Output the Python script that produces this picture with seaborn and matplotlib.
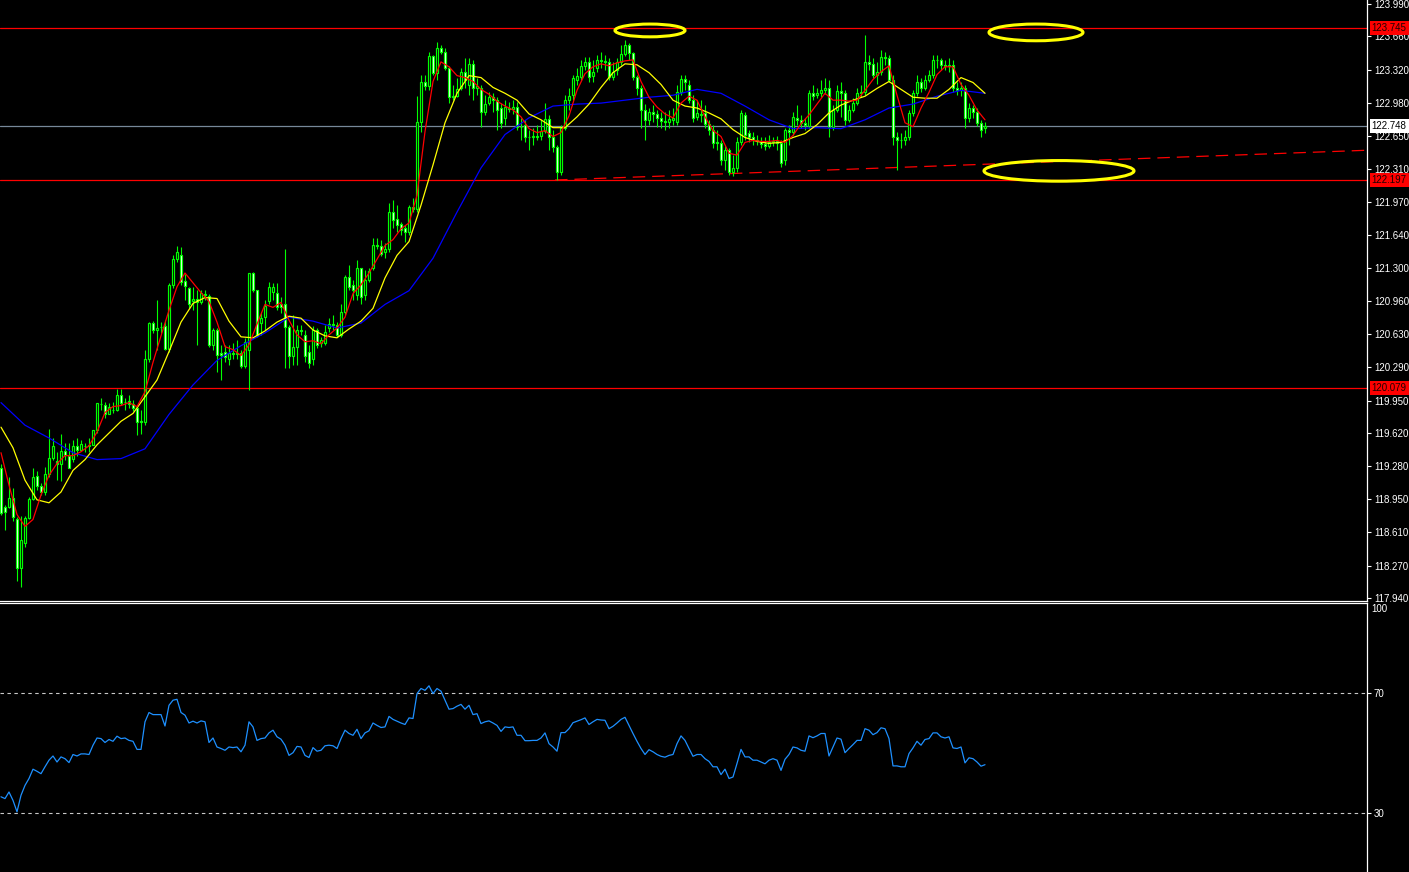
# USDJPY-style candlestick chart with moving averages and RSI, MetaTrader look
import numpy as np
import matplotlib.pyplot as plt
import seaborn as sns
from matplotlib.patches import Ellipse
from matplotlib.transforms import blended_transform_factory

# candle data, one entry per bar
opens = [119.26, 118.87, 118.87, 118.96, 118.74, 118.25, 118.50, 118.76, 118.95, 119.18,
         119.08, 119.02, 119.20, 119.37, 119.34, 119.30, 119.44, 119.39, 119.36, 119.49,
         119.45, 119.49, 119.49, 119.50, 119.65, 119.92, 119.91, 119.81, 119.86, 119.86,
         120.01, 119.94, 119.95, 119.92, 119.88, 119.74, 119.73, 120.37, 120.74, 120.67,
         120.70, 120.71, 120.48, 121.13, 121.39, 121.43, 121.17, 121.10, 120.96, 120.99,
         120.95, 121.04, 121.02, 120.52, 120.67, 120.44, 120.45, 120.37, 120.44, 120.43,
         120.44, 120.30, 120.47, 121.25, 121.08, 120.74, 120.80, 120.96, 121.06, 121.05,
         120.93, 120.93, 120.70, 120.40, 120.50, 120.67, 120.62, 120.45, 120.37, 120.67,
         120.54, 120.54, 120.69, 120.73, 120.72, 120.62, 120.85, 121.21, 121.13, 121.03,
         121.30, 121.03, 121.18, 121.30, 121.54, 121.53, 121.46, 121.49, 121.87, 121.80,
         121.75, 121.71, 121.67, 121.92, 121.90, 122.79, 123.19, 123.15, 123.46, 123.29,
         123.54, 123.50, 123.34, 123.04, 123.05, 123.13, 123.30, 123.16, 123.38, 123.13,
         123.13, 122.89, 122.98, 123.04, 123.01, 122.93, 122.83, 122.93, 122.92, 122.94,
         122.74, 122.76, 122.64, 122.63, 122.65, 122.65, 122.70, 122.82, 122.63, 122.53,
         122.28, 122.73, 123.01, 123.06, 123.22, 123.25, 123.36, 123.40, 123.26, 123.34,
         123.42, 123.41, 123.40, 123.25, 123.32, 123.40, 123.48, 123.57, 123.49, 123.25,
         123.13, 122.91, 122.81, 122.89, 122.87, 122.83, 122.80, 122.79, 122.81, 122.79,
         123.09, 123.23, 123.16, 123.01, 122.84, 122.86, 122.88, 122.77, 122.71, 122.58,
         122.57, 122.40, 122.50, 122.28, 122.32, 122.58, 122.86, 122.68, 122.64, 122.60,
         122.59, 122.56, 122.54, 122.58, 122.59, 122.57, 122.40, 122.71, 122.69, 122.83,
         122.81, 122.78, 122.75, 123.08, 123.06, 123.08, 123.11, 123.13, 122.74, 122.91,
         123.10, 123.08, 122.81, 122.91, 122.98, 123.08, 123.09, 123.40, 123.38, 123.27,
         123.30, 123.45, 123.44, 123.22, 122.64, 122.60, 122.60, 122.64, 122.88, 123.08,
         123.20, 123.13, 123.22, 123.27, 123.42, 123.42, 123.37, 123.36, 123.37, 123.13,
         123.11, 123.13, 122.83, 122.93, 122.89, 122.78, 122.73]
highs = [119.30, 118.89, 119.17, 119.06, 118.77, 118.78, 118.78, 118.97, 119.26, 119.23,
         119.11, 119.27, 119.66, 119.57, 119.43, 119.61, 119.52, 119.52, 119.55, 119.57,
         119.55, 119.52, 119.57, 119.65, 119.93, 119.98, 119.94, 119.93, 119.94, 120.07,
         120.07, 119.98, 120.01, 119.96, 119.89, 119.86, 120.47, 120.75, 120.76, 120.98,
         120.75, 120.77, 121.15, 121.43, 121.52, 121.51, 121.24, 121.11, 121.11, 121.08,
         121.08, 121.08, 121.04, 120.69, 120.69, 120.52, 120.52, 120.52, 120.54, 120.57,
         120.47, 120.59, 121.25, 121.26, 121.08, 120.85, 120.98, 121.16, 121.15, 121.15,
         121.01, 121.49, 120.72, 120.82, 120.72, 120.72, 120.67, 120.52, 120.71, 120.69,
         120.60, 120.72, 120.79, 120.82, 120.75, 120.93, 121.23, 121.33, 121.18, 121.38,
         121.30, 121.28, 121.30, 121.61, 121.61, 121.59, 121.56, 121.96, 121.99, 121.94,
         121.77, 121.74, 121.94, 122.01, 123.05, 123.27, 123.27, 123.50, 123.47, 123.60,
         123.57, 123.54, 123.36, 123.16, 123.24, 123.34, 123.44, 123.44, 123.42, 123.24,
         123.16, 123.06, 123.09, 123.08, 123.04, 122.98, 123.01, 122.99, 123.01, 122.99,
         122.83, 122.81, 122.71, 122.73, 122.76, 122.81, 122.98, 122.86, 122.71, 122.55,
         122.76, 123.06, 123.13, 123.27, 123.34, 123.42, 123.45, 123.45, 123.42, 123.47,
         123.50, 123.47, 123.44, 123.40, 123.44, 123.57, 123.62, 123.59, 123.50, 123.27,
         123.16, 122.97, 122.93, 122.96, 122.91, 122.89, 122.89, 122.91, 122.93, 123.16,
         123.27, 123.27, 123.22, 123.06, 123.01, 123.01, 122.96, 122.81, 122.76, 122.71,
         122.60, 122.55, 122.52, 122.45, 122.63, 122.91, 122.89, 122.71, 122.69, 122.66,
         122.64, 122.63, 122.66, 122.64, 122.65, 122.60, 122.73, 122.76, 122.89, 122.96,
         122.86, 122.83, 123.11, 123.16, 123.13, 123.22, 123.24, 123.22, 122.96, 123.16,
         123.20, 123.11, 122.96, 123.03, 123.13, 123.16, 123.67, 123.47, 123.44, 123.40,
         123.52, 123.50, 123.47, 123.27, 122.69, 122.68, 122.71, 122.91, 123.11, 123.27,
         123.24, 123.27, 123.32, 123.47, 123.47, 123.44, 123.42, 123.44, 123.42, 123.19,
         123.20, 123.16, 122.98, 122.96, 122.93, 122.81, 122.79]
lows = [118.79, 118.63, 118.86, 118.72, 118.11, 118.05, 118.46, 118.75, 118.94, 119.04,
        118.99, 118.99, 119.17, 119.35, 119.14, 119.13, 119.35, 119.26, 119.33, 119.39,
        119.45, 119.43, 119.43, 119.50, 119.62, 119.86, 119.77, 119.81, 119.82, 119.84,
        119.91, 119.86, 119.88, 119.84, 119.60, 119.61, 119.70, 120.34, 120.64, 120.47,
        120.64, 120.47, 120.45, 121.10, 121.36, 121.13, 120.98, 120.89, 120.87, 120.52,
        120.93, 120.98, 120.50, 120.47, 120.24, 120.16, 120.34, 120.31, 120.37, 120.37,
        120.28, 120.28, 120.06, 121.06, 120.60, 120.62, 120.67, 120.93, 120.98, 120.87,
        120.84, 120.28, 120.28, 120.31, 120.31, 120.62, 120.34, 120.28, 120.31, 120.49,
        120.50, 120.52, 120.65, 120.67, 120.60, 120.60, 120.82, 121.08, 120.98, 120.98,
        120.93, 120.98, 121.16, 121.28, 121.49, 121.42, 121.40, 121.46, 121.71, 121.67,
        121.64, 121.57, 121.64, 121.87, 121.87, 122.69, 123.11, 123.11, 123.27, 123.22,
        123.48, 123.32, 122.98, 123.01, 123.04, 123.11, 123.13, 123.06, 123.01, 123.06,
        122.74, 122.86, 122.96, 122.89, 122.71, 122.73, 122.76, 122.89, 122.87, 122.71,
        122.60, 122.58, 122.50, 122.55, 122.60, 122.60, 122.68, 122.50, 122.48, 122.20,
        122.25, 122.71, 122.91, 123.01, 123.16, 123.22, 123.32, 123.19, 123.19, 123.30,
        123.34, 123.32, 123.22, 123.22, 123.27, 123.37, 123.46, 123.42, 123.22, 123.06,
        122.73, 122.60, 122.76, 122.79, 122.74, 122.73, 122.71, 122.73, 122.76, 122.76,
        123.06, 123.11, 122.98, 122.79, 122.81, 122.79, 122.73, 122.66, 122.52, 122.50,
        122.35, 122.30, 122.25, 122.24, 122.28, 122.55, 122.60, 122.58, 122.55, 122.55,
        122.52, 122.50, 122.52, 122.54, 122.50, 122.33, 122.35, 122.55, 122.66, 122.76,
        122.73, 122.71, 122.73, 123.01, 123.03, 123.04, 123.07, 122.64, 122.71, 122.89,
        122.84, 122.76, 122.79, 122.89, 122.96, 123.04, 123.06, 123.32, 123.24, 123.17,
        123.27, 123.37, 123.20, 122.55, 122.30, 122.52, 122.55, 122.60, 122.85, 123.05,
        123.09, 123.11, 123.20, 123.24, 123.34, 123.32, 123.32, 123.30, 123.09, 123.06,
        123.05, 122.73, 122.79, 122.83, 122.75, 122.64, 122.68]
closes = [118.81, 118.82, 118.96, 118.77, 118.25, 118.53, 118.76, 118.95, 119.17, 119.08,
          119.02, 119.20, 119.37, 119.49, 119.30, 119.44, 119.40, 119.26, 119.49, 119.45,
          119.51, 119.49, 119.50, 119.65, 119.93, 119.92, 119.81, 119.89, 119.86, 120.01,
          119.93, 119.94, 119.92, 119.88, 119.73, 119.73, 120.37, 120.74, 120.67, 120.69,
          120.70, 120.48, 121.13, 121.39, 121.46, 121.16, 121.12, 120.93, 120.99, 120.95,
          121.05, 121.03, 120.52, 120.67, 120.42, 120.42, 120.39, 120.44, 120.43, 120.44,
          120.30, 120.55, 121.25, 121.08, 120.62, 120.79, 120.91, 121.11, 121.11, 120.90,
          120.90, 120.70, 120.40, 120.50, 120.67, 120.66, 120.40, 120.33, 120.67, 120.52,
          120.57, 120.65, 120.73, 120.72, 120.62, 120.85, 121.21, 121.11, 121.08, 121.30,
          121.01, 121.18, 121.27, 121.54, 121.52, 121.44, 121.49, 121.87, 121.79, 121.74,
          121.69, 121.67, 121.92, 121.90, 122.79, 123.19, 123.15, 123.46, 123.29, 123.54,
          123.50, 123.34, 123.04, 123.05, 123.12, 123.30, 123.22, 123.38, 123.13, 123.15,
          122.89, 122.97, 123.04, 123.01, 122.91, 122.78, 122.94, 122.92, 122.94, 122.74,
          122.74, 122.64, 122.63, 122.65, 122.64, 122.70, 122.82, 122.63, 122.53, 122.28,
          122.73, 123.01, 123.05, 123.24, 123.26, 123.36, 123.40, 123.25, 123.30, 123.42,
          123.41, 123.40, 123.25, 123.30, 123.40, 123.48, 123.57, 123.49, 123.25, 123.13,
          122.91, 122.81, 122.89, 122.87, 122.83, 122.80, 122.79, 122.82, 122.83, 123.09,
          123.23, 123.19, 123.01, 122.83, 122.88, 122.87, 122.77, 122.71, 122.57, 122.57,
          122.40, 122.50, 122.28, 122.32, 122.58, 122.88, 122.66, 122.63, 122.60, 122.59,
          122.56, 122.54, 122.58, 122.59, 122.57, 122.37, 122.71, 122.69, 122.84, 122.81,
          122.78, 122.76, 123.08, 123.05, 123.08, 123.11, 123.13, 122.74, 122.91, 123.10,
          123.08, 122.81, 122.91, 122.98, 123.08, 123.09, 123.40, 123.38, 123.27, 123.30,
          123.45, 123.44, 123.22, 122.64, 122.60, 122.60, 122.64, 122.88, 123.08, 123.20,
          123.13, 123.22, 123.27, 123.42, 123.42, 123.37, 123.36, 123.37, 123.13, 123.11,
          123.13, 122.83, 122.93, 122.89, 122.78, 122.71, 122.75]

# moving averages as drawn (fast: every 2nd bar, mid: every 3rd, slow: every 6th)
ma_fast = [119.42, 119.09, 118.79, 118.67, 118.74, 118.99, 119.19, 119.31, 119.39, 119.39,
           119.43, 119.49, 119.63, 119.83, 119.89, 119.90, 119.93, 119.89, 120.04, 120.34,
           120.61, 120.87, 121.11, 121.25, 121.15, 121.05, 120.96, 120.75, 120.50, 120.47,
           120.41, 120.52, 120.73, 120.93, 120.90, 120.95, 120.77, 120.62, 120.55, 120.56,
           120.53, 120.62, 120.69, 120.80, 121.04, 121.13, 121.25, 121.39, 121.53, 121.59,
           121.70, 121.76, 122.04, 122.69, 123.20, 123.40, 123.35, 123.26, 123.24, 123.20,
           123.12, 123.07, 123.00, 122.95, 122.91, 122.84, 122.72, 122.68, 122.70, 122.64,
           122.68, 122.85, 123.11, 123.28, 123.35, 123.38, 123.36, 123.39, 123.41, 123.42,
           123.20, 123.04, 122.94, 122.87, 122.83, 122.98, 123.05, 123.01, 122.84, 122.70,
           122.64, 122.47, 122.45, 122.58, 122.60, 122.59, 122.59, 122.60, 122.58, 122.65,
           122.77, 122.86, 122.97, 123.08, 123.01, 123.01, 123.00, 123.01, 123.11, 123.22,
           123.30, 123.36, 123.06, 122.78, 122.74, 122.93, 123.09, 123.27, 123.35, 123.35,
           123.17, 123.06, 122.91, 122.81]
ma_mid = [119.68, 119.47, 119.14, 118.94, 118.91, 119.02, 119.24, 119.35, 119.50, 119.62,
          119.74, 119.82, 119.99, 120.16, 120.45, 120.75, 120.94, 121.00, 120.99, 120.76,
          120.60, 120.59, 120.66, 120.75, 120.81, 120.79, 120.67, 120.61, 120.59, 120.68,
          120.76, 120.89, 121.20, 121.43, 121.57, 121.94, 122.35, 122.78, 123.08, 123.26,
          123.24, 123.14, 123.08, 123.01, 122.87, 122.81, 122.73, 122.73, 122.84, 122.97,
          123.14, 123.29, 123.38, 123.37, 123.29, 123.17, 123.01, 122.95, 122.93, 122.88,
          122.82, 122.71, 122.63, 122.59, 122.57, 122.58, 122.63, 122.67, 122.76, 122.88,
          122.96, 123.01, 123.05, 123.13, 123.20, 123.12, 123.04, 123.03, 123.03, 123.12,
          123.24, 123.19, 123.08]
ma_slow = [119.93, 119.70, 119.57, 119.42, 119.35, 119.36, 119.46, 119.81, 120.11, 120.36,
           120.51, 120.64, 120.80, 120.76, 120.69, 120.74, 120.93, 121.07, 121.40, 121.87,
           122.32, 122.66, 122.83, 122.95, 122.97, 122.98, 123.01, 123.04, 123.06, 123.12,
           123.08, 122.95, 122.81, 122.72, 122.73, 122.72, 122.81, 122.93, 122.97, 123.05,
           123.11, 123.08]

# RSI, one value per bar
rsi = [35.4, 34.8, 37.0, 34.2, 30.4, 35.9, 39.2, 41.5, 44.6, 43.9,
       43.1, 45.4, 47.6, 49.0, 47.0, 48.7, 48.1, 46.8, 49.5, 49.0,
       49.7, 49.7, 49.5, 52.6, 55.0, 54.8, 53.5, 54.5, 53.9, 55.6,
       54.8, 55.0, 54.2, 53.9, 51.2, 51.2, 60.4, 63.5, 62.8, 62.8,
       62.8, 59.0, 65.9, 67.6, 67.9, 63.5, 62.6, 60.0, 60.6, 60.0,
       60.7, 60.4, 53.5, 55.0, 52.0, 51.5, 50.9, 52.0, 51.8, 52.0,
       50.4, 52.6, 60.4, 58.7, 54.2, 54.8, 55.0, 56.7, 57.6, 55.4,
       54.6, 52.6, 49.2, 50.1, 52.2, 52.0, 49.2, 48.5, 51.8, 50.6,
       50.9, 52.4, 52.6, 52.4, 51.5, 54.8, 57.6, 56.5, 55.9, 57.9,
       54.8, 56.7, 57.4, 60.0, 59.2, 58.5, 58.7, 62.2, 61.2, 60.6,
       60.0, 59.5, 61.7, 61.5, 69.8, 71.5, 70.9, 72.4, 69.8, 71.5,
       70.6, 67.6, 64.6, 64.8, 65.6, 66.2, 64.6, 65.9, 62.8, 63.1,
       59.8, 60.4, 60.7, 60.0, 59.2, 57.2, 58.7, 58.5, 58.7, 55.9,
       55.9, 54.1, 54.1, 54.2, 54.2, 55.0, 56.7, 53.1, 52.0, 50.6,
       56.8, 56.8, 58.1, 60.1, 60.6, 61.1, 61.7, 59.5, 60.4, 61.2,
       61.0, 60.9, 58.1, 58.9, 60.0, 61.2, 61.9, 59.2, 56.5, 53.9,
       51.5, 49.5, 51.1, 50.4, 49.5, 48.9, 48.6, 49.2, 49.5, 53.1,
       55.7, 54.2, 51.5, 48.9, 49.5, 49.5, 48.1, 47.2, 45.4, 45.4,
       42.8, 44.6, 41.5, 42.0, 46.5, 51.2, 48.7, 48.7, 47.6, 47.6,
       47.0, 46.4, 47.6, 48.1, 47.6, 44.2, 47.9, 49.5, 52.0, 51.7,
       50.9, 50.6, 55.7, 55.1, 55.7, 56.5, 56.5, 49.0, 52.0, 55.0,
       54.6, 50.1, 51.5, 52.8, 54.2, 54.2, 58.1, 57.6, 56.1, 56.8,
       58.4, 58.1, 54.8, 45.7, 45.7, 45.4, 45.4, 49.8, 51.7, 53.9,
       52.6, 54.5, 54.8, 56.7, 56.7, 55.4, 55.0, 55.4, 51.7, 51.5,
       52.0, 46.7, 48.4, 48.1, 47.0, 45.6, 46.1]

# horizontal levels and the support trend line
red_levels = [123.745, 122.197, 120.079]
last_price = 122.748
trend_bars = [138.5, 341.5]
trend_prices = [122.197, 122.50]
price_ticks = [123.990, 123.660, 123.320, 122.980, 122.650, 122.310, 121.970, 121.640,
               121.300, 120.960, 120.630, 120.290, 119.950, 119.620, 119.280, 118.950,
               118.610, 118.270, 117.940]
rsi_levels = [70, 30]

sns.set_theme(style='dark', rc={'axes.facecolor': 'black', 'figure.facecolor': 'black',
                                'lines.scale_dashes': False})
plt.rcParams['font.family'] = ['Liberation Sans', 'DejaVu Sans']

W, H = 1409, 872
fig = plt.figure(figsize=(W / 100, H / 100), dpi=100)
ax = fig.add_axes([0, 1 - 601 / H, 1367 / W, 601 / H])
ax2 = fig.add_axes([0, 0, 1367 / W, 269 / H])

bars = np.arange(len(closes))
o = np.array(opens)
c = np.array(closes)
lime = '#00ff00'
fs = 7

# levels behind everything
for lv in red_levels:
    ax.axhline(lv, color='#ff0000', lw=0.9, zorder=1)
ax.axhline(last_price, color='#778899', lw=0.9, zorder=1)
ax.plot(trend_bars, trend_prices, color='#ff0000', lw=0.9, ls=(0, (9, 5)), zorder=1)

# candles: wicks, then bodies (bull = black, bear = white)
ax.vlines(bars, lows, highs, color=lime, lw=0.8, zorder=2)
ax.bar(bars, c - o, bottom=o, width=0.58,
       color=np.where(c >= o, 'black', 'white'), edgecolor=lime, linewidth=0.85, zorder=3)

# moving averages
sns.lineplot(x=np.arange(0, len(closes), 6), y=ma_slow, ax=ax, color='#0000ff', lw=0.9, zorder=4)
sns.lineplot(x=np.arange(0, len(closes), 3), y=ma_mid, ax=ax, color='#ffff00', lw=0.9, zorder=4)
sns.lineplot(x=np.arange(0, len(closes), 2), y=ma_fast, ax=ax, color='#ff0000', lw=0.9, zorder=5)

# yellow marker ellipses
for (cx, cy, w, h) in [(162.25, 123.72, 17.5, 0.13), (258.75, 123.70, 23.5, 0.17),
                       (264.5, 122.29, 37.5, 0.21)]:
    ax.add_patch(Ellipse((cx, cy), w, h, fill=False, edgecolor='#ffff00', lw=2.2, zorder=6))

ax.set_xlim(-0.25, 341.5)
ax.set_ylim(117.91, 124.03)
ax.set_xticks([])
ax.yaxis.tick_right()
ax.set_yticks(price_ticks)
ax.set_yticklabels([f'{v:.3f}' for v in price_ticks])
ax.tick_params(axis='y', right=True, left=False, labelright=True, labelleft=False,
               colors='white', labelsize=fs, length=3, width=0.8, pad=2)
ax.set_xlabel('')
ax.set_ylabel('')
for s in ['left', 'top']:
    ax.spines[s].set_visible(False)
for s in ['right', 'bottom']:
    ax.spines[s].set_visible(True)
    ax.spines[s].set_color('white')
    ax.spines[s].set_linewidth(0.9)

# price boxes on the right scale
trans = blended_transform_factory(ax.transAxes, ax.transData)
for lv in red_levels:
    ax.text(1.0035, lv, f'{lv:.3f}', transform=trans, color='#200000', fontsize=fs,
            va='center', ha='left', clip_on=False, zorder=10,
            bbox=dict(boxstyle='square,pad=0.2', fc='#ff0000', ec='none'))
ax.text(1.0035, last_price, f'{last_price:.3f}', transform=trans, color='black', fontsize=fs,
        va='center', ha='left', clip_on=False, zorder=10,
        bbox=dict(boxstyle='square,pad=0.2', fc='white', ec='none'))

# RSI panel
for lv in rsi_levels:
    ax2.axhline(lv, color='#c8c8c8', lw=0.8, ls=(0, (2.5, 2.5)), zorder=1)
sns.lineplot(x=bars, y=rsi, ax=ax2, color='#1e90ff', lw=0.9, zorder=3)
ax2.set_xlim(-0.25, 341.5)
ax2.set_ylim(10.33, 100)
ax2.set_xticks([])
ax2.yaxis.tick_right()
ax2.set_yticks(rsi_levels)
ax2.set_yticklabels([str(v) for v in rsi_levels])
ax2.tick_params(axis='y', right=True, left=False, labelright=True, labelleft=False,
                colors='white', labelsize=fs, length=3, width=0.8, pad=2)
ax2.set_xlabel('')
ax2.set_ylabel('')
ax2.text(1.0035, 99.5, '100', transform=blended_transform_factory(ax2.transAxes, ax2.transData),
         color='white', fontsize=fs, va='top', ha='left', clip_on=False)
for s in ['left', 'bottom']:
    ax2.spines[s].set_visible(False)
for s in ['right', 'top']:
    ax2.spines[s].set_visible(True)
    ax2.spines[s].set_color('white')
    ax2.spines[s].set_linewidth(0.9)

fig.savefig('out.png', dpi=100, facecolor='black')
